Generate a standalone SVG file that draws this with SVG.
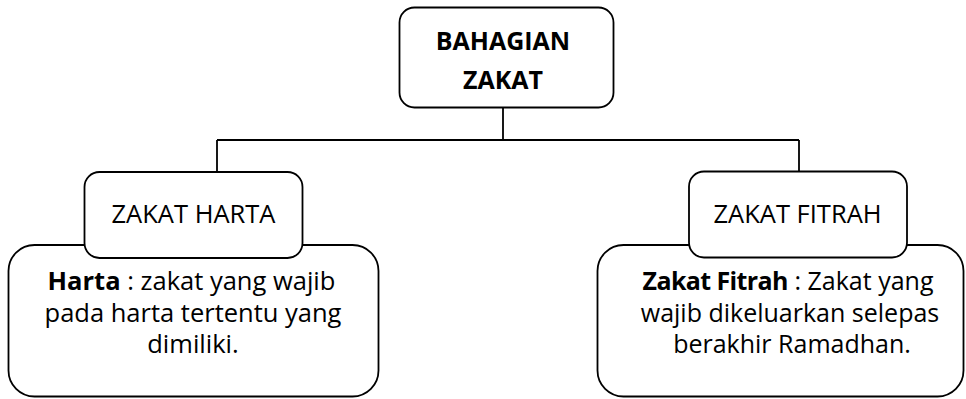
<svg xmlns="http://www.w3.org/2000/svg" width="966" height="399" viewBox="0 0 966 399">
<style>
  .box { fill: #ffffff; stroke: #000000; stroke-width: 1.8; }
  .conn { fill: none; stroke: #000000; stroke-width: 1.8; }
  text { font-family: "Open Sans", "Noto Sans", "Liberation Sans", sans-serif; fill: #000000; text-anchor: middle; }
  .t { font-size: 25.5px; }
  .r { font-size: 25px; }
  .h { font-size: 25px; font-weight: bold; }
  .b { font-weight: bold; }
</style>
<rect width="966" height="399" fill="#ffffff"/>
<g id="connectors">
  <path class="conn" d="M503 107 V140 M217 140 H799 M217 140 V172 M799 140 V171"/>
</g>
<g id="node-root">
  <rect class="box" x="399.5" y="7.5" width="214" height="100" rx="15"/>
  <text class="h" x="503" y="50">BAHAGIAN</text>
  <text class="h" x="503" y="89">ZAKAT</text>
</g>
<g id="node-harta-desc">
  <rect class="box" x="8.5" y="245" width="370" height="151.5" rx="26"/>
  <text class="t" x="191.5" y="290"><tspan class="b">Harta</tspan> : zakat yang wajib</text>
  <text class="t" x="193" y="321.5">pada harta tertentu yang</text>
  <text class="t" x="193" y="353">dimiliki.</text>
</g>
<g id="node-fitrah-desc">
  <rect class="box" x="597.5" y="245" width="366" height="151.5" rx="26"/>
  <text class="r" x="788" y="290"><tspan class="b" letter-spacing="-0.6">Zakat Fitrah</tspan> : Zakat yang</text>
  <text class="r" x="790" y="321.5">wajib dikeluarkan selepas</text>
  <text class="r" x="792" y="353">berakhir Ramadhan.</text>
</g>
<g id="node-harta">
  <rect class="box" x="84.5" y="172" width="218" height="86" rx="15"/>
  <text class="t" x="193.5" y="223">ZAKAT HARTA</text>
</g>
<g id="node-fitrah">
  <rect class="box" x="689" y="171.5" width="218" height="86" rx="15"/>
  <text class="t" x="797.5" y="223">ZAKAT FITRAH</text>
</g>
</svg>
